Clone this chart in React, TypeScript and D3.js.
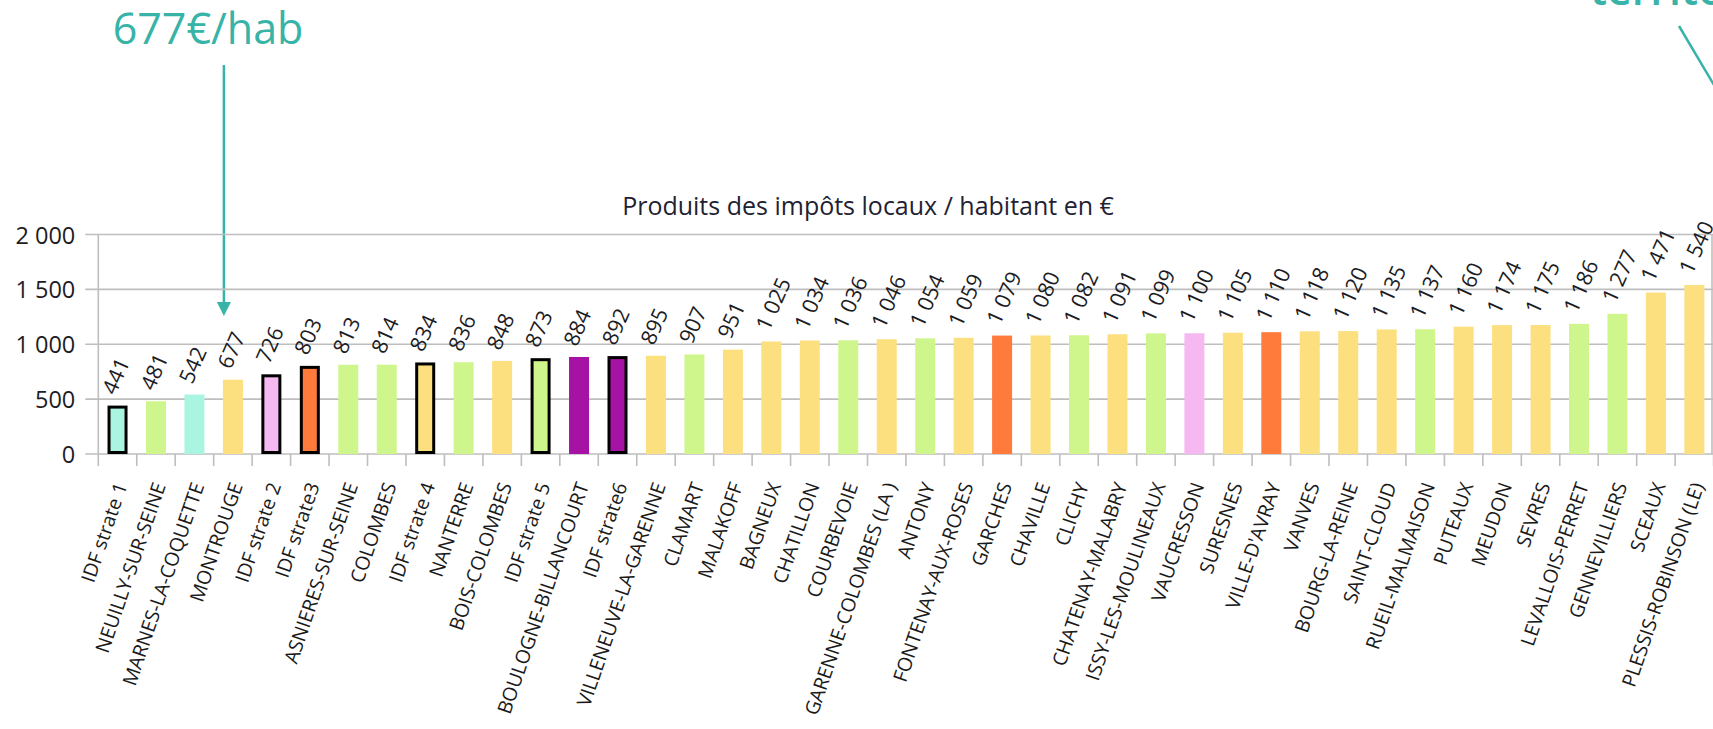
import React from "react";
import * as d3 from "d3";

// Produits des impôts locaux par habitant (€), communes des Hauts-de-Seine + moyennes IDF par strate
const communes = [
  "IDF strate 1", "NEUILLY-SUR-SEINE", "MARNES-LA-COQUETTE", "MONTROUGE", "IDF strate 2",
  "IDF strate3", "ASNIERES-SUR-SEINE", "COLOMBES", "IDF strate 4", "NANTERRE",
  "BOIS-COLOMBES", "IDF strate 5", "BOULOGNE-BILLANCOURT", "IDF strate6", "VILLENEUVE-LA-GARENNE",
  "CLAMART", "MALAKOFF", "BAGNEUX", "CHATILLON", "COURBEVOIE",
  "GARENNE-COLOMBES (LA )", "ANTONY", "FONTENAY-AUX-ROSES", "GARCHES", "CHAVILLE",
  "CLICHY", "CHATENAY-MALABRY", "ISSY-LES-MOULINEAUX", "VAUCRESSON", "SURESNES",
  "VILLE-D'AVRAY", "VANVES", "BOURG-LA-REINE", "SAINT-CLOUD", "RUEIL-MALMAISON",
  "PUTEAUX", "MEUDON", "SEVRES", "LEVALLOIS-PERRET", "GENNEVILLIERS",
  "SCEAUX", "PLESSIS-ROBINSON (LE)",
];

const produits = [
  441, 481, 542, 677, 726, 803, 813, 814, 834, 836,
  848, 873, 884, 892, 895, 907, 951, 1025, 1034, 1036,
  1046, 1054, 1059, 1079, 1080, 1082, 1091, 1099, 1100, 1105,
  1110, 1118, 1120, 1135, 1137, 1160, 1174, 1175, 1186, 1277,
  1471, 1540,
];

// strate démographique de chaque commune (1 à 6)
const strates = [
  1, 5, 1, 4, 2, 3, 5, 5, 4, 5,
  4, 5, 6, 6, 4, 5, 4, 4, 4, 5,
  4, 5, 4, 3, 4, 5, 4, 5, 2, 4,
  3, 4, 4, 4, 5, 4, 4, 4, 5, 5,
  4, 4,
];

const yTicks = [0, 500, 1000, 1500, 2000];

const strateColors: Record<number, string> = {
  1: "#AAF5E2",
  2: "#F6B8F1",
  3: "#FF7B3B",
  4: "#FCE07F",
  5: "#CFF68C",
  6: "#A612A4",
};

const W = 1713;
const H = 729;
const teal = "#38B3A7";
const grid = "#BEBEBE";
const font = "'Open Sans', sans-serif";

const fr = d3.formatLocale({
  decimal: ",",
  thousands: "\u00a0",
  grouping: [3],
  currency: ["", " €"],
});
const fmt = fr.format(",");

export default function App() {
  const margin = { top: 234.5, right: 0, bottom: 275, left: 98.3 };

  const x = d3
    .scaleBand<string>()
    .domain(communes)
    .range([margin.left, W - margin.right + 0.6])
    .paddingInner(0.48)
    .paddingOuter(0.24);

  const y = d3
    .scaleLinear()
    .domain([0, 2000])
    .range([H - margin.bottom, margin.top]);

  const step = x.step();
  const x0 = margin.left;
  const x1 = W - margin.right;
  const arrowX = x("MONTROUGE")! + x.bandwidth() / 2 - 9;

  return (
    <svg
      width={W}
      height={H}
      style={{ position: "absolute", left: 0, top: 0, background: "#fff" }}
      fontFamily={font}
    >
      {/* annotations */}
      <text x={208} y={44} fill={teal} fontSize={43} textAnchor="middle">
        677€/hab
      </text>
      <line x1={arrowX} x2={arrowX} y1={65} y2={304} stroke={teal} strokeWidth={2.5} />
      <path
        d={`M${arrowX - 7},${302} L${arrowX + 7},${302} L${arrowX},${316} Z`}
        fill={teal}
      />
      <text x={1590} y={5} fill={teal} fontSize={43} fontWeight={600}>
        territoire
      </text>
      <line x1={1679} y1={26} x2={1740} y2={129} stroke={teal} strokeWidth={2.5} />

      {/* title */}
      <text x={868} y={215} fontSize={25} textAnchor="middle" fill="#1f2233">
        Produits des impôts locaux / habitant en €
      </text>

      {/* grid + y axis */}
      {yTicks.map((t) => (
        <g key={t}>
          <line x1={x0 - 13} x2={x1} y1={y(t)} y2={y(t)} stroke={grid} strokeWidth={1.6} />
          <text
            x={x0 - 23}
            y={y(t)}
            textAnchor="end"
            dominantBaseline="central"
            fontSize={23.5}
            fill="#1c1c24"
          >
            {fmt(t)}
          </text>
        </g>
      ))}
      <line x1={x0} x2={x0} y1={y(2000)} y2={y(0) + 12} stroke={grid} strokeWidth={1.6} />
      <line x1={x1 - 1} x2={x1 - 1} y1={y(2000)} y2={y(0)} stroke={grid} strokeWidth={1.6} />
      {communes.map((c, i) => (
        <line
          key={"t" + c}
          x1={x0 + (i + 1) * step}
          x2={x0 + (i + 1) * step}
          y1={y(0)}
          y2={y(0) + 12}
          stroke={grid}
          strokeWidth={1.6}
        />
      ))}

      {/* bars */}
      {communes.map((c, i) => {
        const ref = c.startsWith("IDF");
        const v = produits[i];
        const bx = x(c)!;
        const bw = x.bandwidth();
        return (
          <rect
            key={"b" + c}
            x={ref ? bx + 1.5 : bx}
            y={ref ? y(v) + 1.5 : y(v)}
            width={ref ? bw - 3 : bw}
            height={ref ? y(0) - y(v) - 3 : y(0) - y(v)}
            fill={strateColors[strates[i]]}
            stroke={ref ? "#000" : "none"}
            strokeWidth={3}
          />
        );
      })}

      {/* value labels */}
      {communes.map((c, i) => {
        const cx = x(c)! + x.bandwidth() / 2;
        const ty = y(produits[i]) - 13;
        return (
          <text
            key={"v" + c}
            transform={`translate(${cx - 10},${ty}) rotate(-66)`}
            dominantBaseline="central"
            fontSize={21.5}
            fill="#1c1c24"
          >
            {fmt(produits[i])}
          </text>
        );
      })}

      {/* category labels */}
      {communes.map((c) => {
        const cx = x(c)! + x.bandwidth() / 2;
        return (
          <text
            key={"l" + c}
            transform={`translate(${cx + 3},${y(0) + 29}) rotate(-71)`}
            textAnchor="end"
            dominantBaseline="central"
            fontSize={19.5}
            fill="#1a1a1a"
          >
            {c}
          </text>
        );
      })}
    </svg>
  );
}
